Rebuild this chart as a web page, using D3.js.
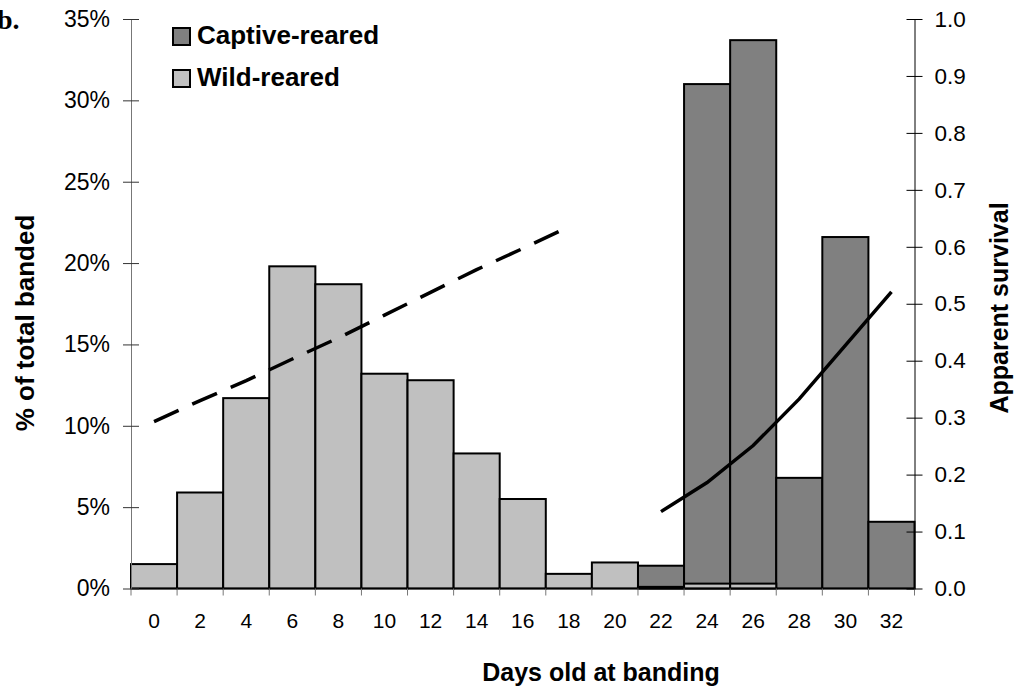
<!DOCTYPE html>
<html>
<head>
<meta charset="utf-8">
<script src="https://cdn.jsdelivr.net/npm/d3@7"></script>
<style>
  body { margin: 0; background: #fff; }
  text { font-family: "Liberation Sans", Arial, sans-serif; }
</style>
</head>
<body>
<div id="chart"></div>
<script>
// age at banding (days), one bar class per two days
var days = [0, 2, 4, 6, 8, 10, 12, 14, 16, 18, 20, 22, 24, 26, 28, 30, 32];
// % of total banded
var wildPct    = [1.5, 5.9, 11.7, 19.8, 18.7, 13.2, 12.8, 8.3, 5.5, 0.9, 1.6, 0.1, 0.3, 0.3, 0, 0, 0];
var captivePct = [0, 0, 0, 0, 0, 0, 0, 0, 0, 0, 0, 1.4, 31.0, 33.7, 6.8, 21.6, 4.1];
// apparent survival curves
var wildSurvDays    = [0, 2, 4, 6, 8, 10, 12, 14, 16, 18];
var wildSurv        = [0.293, 0.330, 0.365, 0.403, 0.440, 0.480, 0.520, 0.560, 0.597, 0.635];
var captiveSurvDays = [22, 24, 26, 28, 30, 32];
var captiveSurv     = [0.135, 0.186, 0.251, 0.333, 0.427, 0.521];
// axis ticks
var pctTicks  = [0, 5, 10, 15, 20, 25, 30, 35];
var survTicks = [0, 0.1, 0.2, 0.3, 0.4, 0.5, 0.6, 0.7, 0.8, 0.9, 1.0];

var width = 1021, height = 694;
var plotL = 131, plotR = 914.5, plotT = 19, plotB = 588.5;

var svg = d3.select("#chart")
    .append("svg")
    .attr("width", width)
    .attr("height", height);

var x = d3.scaleBand()
    .domain(days)
    .range([plotL, plotR])
    .padding(0);

var yPct = d3.scaleLinear()
    .domain([0, 35])
    .range([plotB, plotT]);

var ySurv = d3.scaleLinear()
    .domain([0, 1])
    .range([plotB, plotT]);

var bw = x.bandwidth();

// bars: captive first, wild-reared drawn over it
var bars = [
    {name: "Captive-reared", values: captivePct, fill: "#808080"},
    {name: "Wild-reared", values: wildPct, fill: "#c0c0c0"}
];

bars.forEach(function(s) {
    svg.append("g")
        .selectAll("rect")
        .data(days.map(function(d, i) { return {day: d, v: s.values[i]}; })
            .filter(function(d) { return d.v > 0; }))
        .enter()
        .append("rect")
        .attr("x", function(d) { return x(d.day); })
        .attr("y", function(d) { return yPct(d.v); })
        .attr("width", bw)
        .attr("height", function(d) { return yPct(0) - yPct(d.v); })
        .attr("fill", s.fill)
        .attr("stroke", "#000")
        .attr("stroke-width", 2);
});

// x baseline
svg.append("line")
    .attr("x1", plotL).attr("x2", plotR)
    .attr("y1", plotB).attr("y2", plotB)
    .attr("stroke", "#000")
    .attr("stroke-width", 1.5);

// tick marks between categories
var edges = days.map(function(d) { return x(d); }).concat([plotR]);
svg.append("g")
    .selectAll("line")
    .data(edges)
    .enter()
    .append("line")
    .attr("x1", function(d) { return d; })
    .attr("x2", function(d) { return d; })
    .attr("y1", plotB)
    .attr("y2", plotB + 7)
    .attr("stroke", "#777")
    .attr("stroke-width", 1);

// x labels
var xAxis = svg.append("g")
    .attr("transform", "translate(0," + plotB + ")")
    .call(d3.axisBottom(x).tickSize(0).tickPadding(25));
xAxis.select(".domain").remove();
xAxis.selectAll("text")
    .attr("font-size", 21)
    .attr("fill", "#000")
    .style("font-family", "'Liberation Sans', Arial, sans-serif");

// left axis
var yAxisL = svg.append("g")
    .attr("transform", "translate(" + plotL + ",0)")
    .call(d3.axisLeft(yPct)
        .tickValues(pctTicks)
        .tickFormat(function(d) { return d + "%"; })
        .tickSizeOuter(0));
yAxisL.select(".domain").attr("stroke", "#777");
yAxisL.selectAll(".tick line").attr("x1", -8).attr("x2", 8).attr("stroke", "#333");
yAxisL.selectAll(".tick text")
    .attr("x", -21)
    .attr("font-size", 23)
    .attr("fill", "#000")
    .style("font-family", "'Liberation Sans', Arial, sans-serif");

// right axis
var yAxisR = svg.append("g")
    .attr("transform", "translate(" + plotR + ",0)")
    .call(d3.axisRight(ySurv)
        .tickValues(survTicks)
        .tickFormat(d3.format(".1f"))
        .tickSizeOuter(0));
yAxisR.select(".domain").attr("stroke", "#000");
yAxisR.selectAll(".tick line").attr("x1", -8).attr("x2", 8).attr("stroke", "#000");
yAxisR.selectAll(".tick text")
    .attr("x", 20)
    .attr("font-size", 22.5)
    .attr("fill", "#000")
    .style("font-family", "'Liberation Sans', Arial, sans-serif");

// survival lines
var line = d3.line()
    .x(function(d) { return x(d.day) + bw / 2; })
    .y(function(d) { return ySurv(d.s); });

svg.append("path")
    .datum(wildSurvDays.map(function(d, i) { return {day: d, s: wildSurv[i]}; }))
    .attr("d", line)
    .attr("fill", "none")
    .attr("stroke", "#000")
    .attr("stroke-width", 3.5)
    .attr("stroke-dasharray", "27,15");

svg.append("path")
    .datum(captiveSurvDays.map(function(d, i) { return {day: d, s: captiveSurv[i]}; }))
    .attr("d", line)
    .attr("fill", "none")
    .attr("stroke", "#000")
    .attr("stroke-width", 3.5);

// legend
var legend = svg.append("g")
    .selectAll("g")
    .data(bars)
    .enter()
    .append("g")
    .attr("transform", function(d, i) { return "translate(173," + (28 + i * 42) + ")"; });

legend.append("rect")
    .attr("width", 17)
    .attr("height", 17)
    .attr("fill", function(d) { return d.fill; })
    .attr("stroke", "#000")
    .attr("stroke-width", 2);

legend.append("text")
    .attr("x", 24)
    .attr("y", 16)
    .attr("font-size", 26)
    .attr("font-weight", "bold")
    .text(function(d) { return d.name; });

// axis titles
svg.append("text")
    .attr("transform", "translate(34,323) rotate(-90)")
    .attr("text-anchor", "middle")
    .attr("font-size", 26)
    .attr("font-weight", "bold")
    .text("% of total banded");

svg.append("text")
    .attr("transform", "translate(1008,308) rotate(-90)")
    .attr("text-anchor", "middle")
    .attr("font-size", 25)
    .attr("font-weight", "bold")
    .text("Apparent survival");

svg.append("text")
    .attr("x", 601)
    .attr("y", 681)
    .attr("text-anchor", "middle")
    .attr("font-size", 25)
    .attr("font-weight", "bold")
    .text("Days old at banding");

// panel letter
svg.append("text")
    .attr("x", -3)
    .attr("y", 29)
    .attr("font-size", 28)
    .attr("font-weight", "bold")
    .style("font-family", "'Liberation Serif', 'Times New Roman', serif")
    .text("b.");
</script>
</body>
</html>
